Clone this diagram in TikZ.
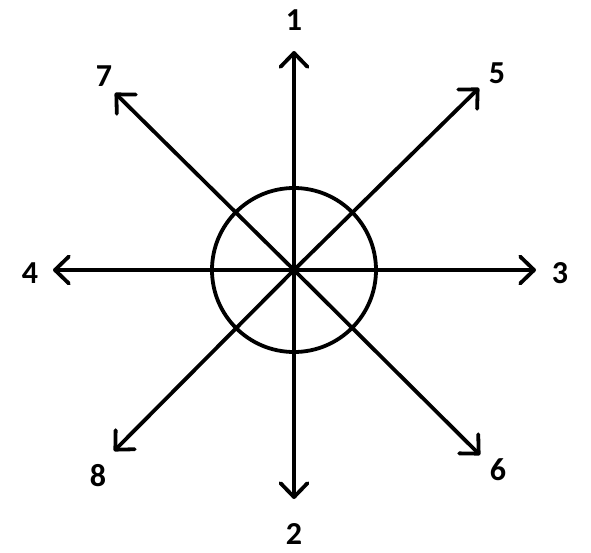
\documentclass[tikz,border=0pt]{standalone}
\usepackage{fontspec}
\setmainfont{Carlito}
\usetikzlibrary{arrows.meta}

\begin{document}
\begin{tikzpicture}[x=1pt,y=-1pt,line width=3.8pt,
    dirarrow/.style={-{Straight Barb[length=14pt,width=27pt,round]},line cap=round},
    dirlabel/.style={font=\fontsize{32}{38}\selectfont\bfseries,inner sep=0pt}]
  \useasboundingbox (0,0) rectangle (591,552);
  \coordinate (c) at (294,270);
  \draw (c) circle[radius=82];
  % arrow ends
  \coordinate (e1) at (294,51);
  \coordinate (e2) at (294,499);
  \coordinate (e3) at (536,270);
  \coordinate (e4) at (53,270);
  \coordinate (e5) at (479,88);
  \coordinate (e6) at (480,455);
  \coordinate (e7) at (115,93);
  \coordinate (e8) at (114,451);
  \draw[dirarrow] (c) -- (e1);
  \draw[dirarrow] (c) -- (e2);
  \draw[dirarrow] (c) -- (e3);
  \draw[dirarrow] (c) -- (e4);
  \draw[dirarrow] (c) -- (e5);
  \draw[dirarrow] (c) -- (e6);
  \draw[dirarrow] (c) -- (e7);
  \draw[dirarrow] (c) -- (e8);
  % labels
  \node[dirlabel] (l1) at (294,20) {1};
  \node[dirlabel] (l2) at (294,534) {2};
  \node[dirlabel] (l3) at (560,273) {3};
  \node[dirlabel] (l4) at (30,273) {4};
  \node[dirlabel] (l5) at (497,73) {5};
  \node[dirlabel] (l6) at (498,470) {6};
  \node[dirlabel] (l7) at (104,76) {7};
  \node[dirlabel] (l8) at (98,476) {8};
\end{tikzpicture}
\end{document}
